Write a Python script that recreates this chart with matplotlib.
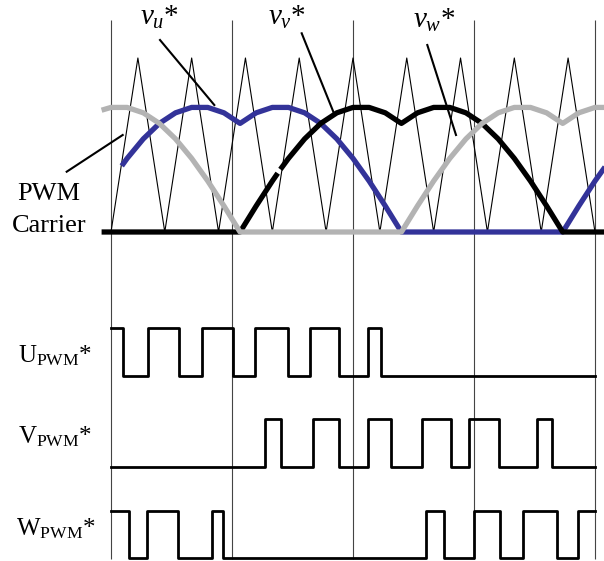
import matplotlib
matplotlib.use("Agg")
import matplotlib.pyplot as plt

plt.rcParams['font.family'] = ['Liberation Serif', 'DejaVu Serif']
plt.rcParams['mathtext.fontset'] = 'custom'
plt.rcParams['mathtext.rm'] = 'Liberation Serif'
plt.rcParams['mathtext.it'] = 'Liberation Serif:italic'

# ---- data (angles in degrees, vertical grid every 90 deg) ----
grid_deg = [0, 90, 180, 270, 360]

carrier_x = [0, 20, 40, 60, 80, 100, 120, 140, 160, 180,
             200, 220, 240, 260, 280, 300, 320, 340, 360]
carrier_y = [0, 1, 0, 1, 0, 1, 0, 1, 0, 1,
             0, 1, 0, 1, 0, 1, 0, 1, 0]

# modulating waves (fraction of carrier height)
vu_x = [8, 12, 24, 36, 48, 60, 72, 84, 96, 108, 120, 132, 144, 156, 168, 180,
        192, 204, 216, 336, 348, 360, 372]
vu_y = [0.38, 0.423, 0.535, 0.624, 0.685, 0.716, 0.716, 0.685, 0.624, 0.685,
        0.716, 0.716, 0.685, 0.624, 0.535, 0.423, 0.293, 0.150, 0.0, 0.0,
        0.150, 0.293, 0.423]

# black wave has a small break near 125 deg in the original
vv_x = [-7, 96, 108, 120, 124, 125, 126, 132, 144, 156, 168, 180, 192, 204,
        216, 228, 240, 252, 264, 276, 288, 300, 312, 324, 336, 372]
vv_y = [0.0, 0.0, 0.150, 0.293, 0.338, float('nan'), 0.360, 0.423, 0.535,
        0.624, 0.685, 0.716, 0.716, 0.685, 0.624, 0.685, 0.716, 0.716, 0.685,
        0.624, 0.535, 0.423, 0.293, 0.150, 0.0, 0.0]

vw_x = [-7, 0, 12, 24, 36, 48, 60, 72, 84, 96, 216, 228, 240, 252, 264, 276,
        288, 300, 312, 324, 336, 348, 360, 372]
vw_y = [0.70, 0.716, 0.716, 0.685, 0.624, 0.535, 0.423, 0.293, 0.150, 0.0,
        0.0, 0.150, 0.293, 0.423, 0.535, 0.624, 0.685, 0.716, 0.716, 0.685,
        0.624, 0.685, 0.716, 0.716]

# switching edges of the PWM signals
u_edges = [9.1, 27.7, 50.8, 67.9, 91.0, 107.1, 131.3, 148.0, 169.8, 191.4, 200.8]
v_edges = [114.5, 126.8, 150.5, 169.8, 191.4, 208.0, 231.3, 252.9, 266.3,
           288.8, 317.1, 327.8]
w_edges = [13.4, 26.6, 49.6, 74.9, 83.5, 234.3, 247.7, 270.2, 289.3, 306.2,
           331.5, 347.6]
u_start, v_start, w_start = 1, 0, 1

# ---- figure, one axes over the whole canvas ----
W, H = 604, 561
X0, PXDEG = 111, 1.3444   # pixel of 0 deg, pixels per degree
Y0, PXUNIT = 232, 174     # pixel of carrier bottom, pixels per carrier height

fig = plt.figure(figsize=(W / 100, H / 100), dpi=100)
ax = fig.add_axes([0, 0, 1, 1])
ax.set_xlim(-X0 / PXDEG, (W - X0) / PXDEG)
ax.set_ylim((Y0 - H) / PXUNIT, Y0 / PXUNIT)
ax.axis('off')


def dx(xp):
    return (xp - X0) / PXDEG


def dy(yp):
    return (Y0 - yp) / PXUNIT


ax.vlines(grid_deg, dy(559), dy(20), color='#444444', lw=0.8, zorder=1)

ax.plot(carrier_x, carrier_y, color='black', lw=0.8, zorder=2)

ax.plot(vu_x, vu_y, color='#333399', lw=3.8, solid_capstyle='butt', zorder=3)
ax.plot(vv_x, vv_y, color='black', lw=3.8, solid_capstyle='butt', zorder=4)
ax.plot(vw_x, vw_y, color='#b3b3b3', lw=3.8, solid_capstyle='butt', zorder=5)


def pwm(edges, start, base_px, high_px):
    xs = [0] + edges + [360]
    lev = [(start + i) % 2 for i in range(len(edges) + 1)]
    lev.append(lev[-1])
    ys = [dy(base_px) + l * (dy(high_px) - dy(base_px)) for l in lev]
    ax.step(xs, ys, where='post', color='black', lw=2.0, zorder=3)


pwm(u_edges, u_start, 376, 328)
pwm(v_edges, v_start, 467, 419)
pwm(w_edges, w_start, 558, 511)

# leader lines
leaders = [((66.7, 171.7), (122.7, 135)),
           ((160, 40), (214.3, 105)),
           ((301.7, 33.3), (333.3, 111.7)),
           ((427.3, 45), (456, 135))]
for (x1, y1), (x2, y2) in leaders:
    ax.plot([dx(x1), dx(x2)], [dy(y1), dy(y2)], color='black', lw=1.5, zorder=6)


def ftext(xp, yp, s, **kw):
    fig.text(xp / W, 1 - yp / H, s, va='baseline', **kw)


ftext(140, 25, r'$v_u$*', fontsize=21)
ftext(268, 25, r'$v_v$*', fontsize=21)
ftext(413, 28, r'$v_w$*', fontsize=21)

ftext(48.5, 200, 'PWM', fontsize=19, ha='center')
ftext(49, 232, 'Carrier', fontsize=19, ha='center')

for name, xp, base in [('U', 18, 362), ('V', 18, 443), ('W', 16, 535)]:
    ftext(xp, base, r'$\mathrm{%s}_{\mathrm{PWM}}$*' % name, fontsize=18)

fig.savefig('out.png', dpi=100)
